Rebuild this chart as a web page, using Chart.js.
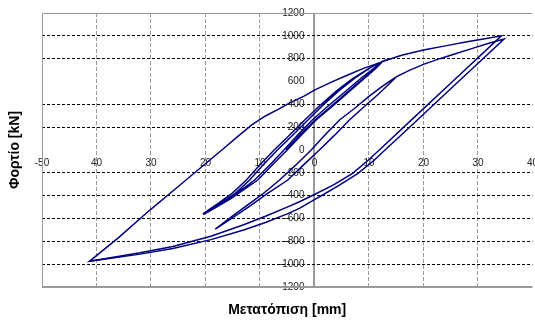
<!DOCTYPE html>
<html>
<head>
<meta charset="utf-8">
<script src="https://cdn.jsdelivr.net/npm/chart.js@4.4.1/dist/chart.umd.min.js"></script>
<style>
    html, body { margin: 0; padding: 0; background: #fff; overflow: hidden; }
    #wrap { width: 545px; height: 322px; }
</style>
</head>
<body>
<div id="wrap"><canvas id="myChart" width="545" height="322"></canvas></div>
<script>
// Tick values and labels (as printed on the original chart)
const xTicks = [-50, -40, -30, -20, -10, 0, 10, 20, 30, 40];
const xTickLabels = ["-50", "40", "30", "20", "10", "0", "10", "20", "30", "40"];
const yTicks = [-1200, -1000, -800, -600, -400, -200, 0, 200, 400, 600, 800, 1000, 1200];
const yTickLabels = ["-1200", "-1000", "-800", "-600", "-400", "-200", "0", "200", "400", "600", "800", "1000", "1200"];

// Small cycles (displacement mm / load kN)
const up1X = [-5.2, -2.6, 0.1, 3.0, 6.0, 9.0, 11.0, 12.5];
const up1Y = [0, 135, 263, 380, 505, 628, 708, 775];
const down1X = [12.5, 10.0, 7.0, 4.0, 1.0, -1.8, -4.6, -7.4, -10.0, -12.5, -15.0, -17.6, -20.5];
const down1Y = [775, 715, 625, 515, 390, 263, 130, 0, -130, -263, -375, -465, -560];
const up2X = [-20.5, -18.1, -15.8, -13.4, -11.0, -8.3, -5.6, -3.0, -0.4, 2.5, 5.6, 8.7, 10.9, 12.6];
const up2Y = [-560, -500, -435, -350, -263, -135, 0, 135, 263, 385, 510, 635, 715, 778];
const down2X = [12.6, 10.2, 7.4, 4.5, 1.6, -1.2, -4.0, -6.8, -9.4, -11.9, -14.5, -17.3, -20.4];
const down2Y = [778, 720, 630, 520, 395, 263, 130, 0, -130, -263, -380, -470, -565];
const up3X = [-20.4, -17.9, -15.4, -12.9, -10.4, -7.7, -5.0, -2.3, 0.3, 3.2, 6.2, 9.2, 11.2, 12.5];
const up3Y = [-565, -498, -428, -345, -263, -130, 0, 135, 263, 380, 505, 630, 712, 775];

// Large cycle
const envExtX = [12.5, 16, 20, 24, 28, 31, 34.3];
const envExtY = [775, 830, 875, 912, 948, 972, 1000];
const bigDown1X = [34.3, 25, 18, 12, 9.9, 7, 3.5, 0, -2.75, -5, -9, -13, -19, -26, -32, -38, -41.3];
const bigDown1Y = [1000, 585, 273, 5, -88, -204, -305, -390, -453, -500, -580, -655, -755, -845, -900, -948, -975];
const envUpX = [-41.3, -36, -30.2, -25, -21, -17, -14, -11.5, -9, -6.5, -4.6, -2, 0, 3, 6, 9, 12.5];
const envUpY = [-975, -770, -526, -320, -160, 0, 122, 220, 298, 360, 410, 470, 525, 592, 655, 715, 774];

// Medium cycle, then reloading to the peak
const midDownX = [15, 12.5, 10, 7.5, 4.6, 2, -0.6, -3.5, -6.4, -9.5, -12.5, -15.5, -18.2];
const midDownY = [640, 560, 470, 370, 263, 135, 0, -135, -263, -385, -490, -595, -692];
const midUpX = [-18.2, -15.2, -12, -8.6, -4.9, -2, 0.9, 3.7, 6.4, 9, 11.5, 13.5, 15];
const midUpY = [-692, -600, -495, -380, -263, -130, 0, 130, 263, 375, 480, 570, 640];
const midExtX = [15, 17.5, 20, 23, 26, 29, 32, 34.8];
const midExtY = [640, 700, 750, 800, 845, 890, 935, 972];
const bigDown2X = [34.8, 25, 18, 12.5, 11, 8, 4.5, 1.5, 0, -2.75, -5, -9, -13, -19, -26, -32, -38, -41.3];
const bigDown2Y = [972, 536, 224, -20, -88, -204, -310, -394, -435, -511, -560, -635, -700, -785, -862, -912, -952, -975];

function pts(xs, ys) {
    return xs.map((x, i) => ({ x: x, y: ys[i] }));
}

const path1 = [].concat(
    pts(up1X, up1Y), pts(down1X, down1Y), pts(up2X, up2Y), pts(down2X, down2Y),
    pts(up3X, up3Y), pts(envExtX, envExtY), pts(bigDown1X, bigDown1Y), pts(envUpX, envUpY)
);
const path2 = [].concat(
    pts(midDownX, midDownY), pts(midUpX, midUpY), pts(midExtX, midExtY), pts(bigDown2X, bigDown2Y)
);

const FONT = "'Liberation Sans', Arial, sans-serif";
const GRAY = "#9a9a9a";

// gray frame round the plot area (left, top, bottom)
const framePlugin = {
    id: "frame",
    beforeDatasetsDraw(chart) {
        const { ctx, chartArea: a } = chart;
        ctx.save();
        ctx.strokeStyle = GRAY;
        ctx.lineWidth = 1;
        ctx.beginPath();
        ctx.moveTo(a.left + 0.5, a.bottom);
        ctx.lineTo(a.left + 0.5, a.top + 0.5);
        ctx.lineTo(a.right, a.top + 0.5);
        ctx.stroke();
        ctx.lineWidth = 2;
        ctx.beginPath();
        ctx.moveTo(a.left, a.bottom);
        ctx.lineTo(a.right, a.bottom);
        ctx.stroke();
        ctx.restore();
    },
};

const lineStyle = {
    showLine: true,
    borderColor: "#000080",
    borderWidth: 1.5,
    pointRadius: 0,
    tension: 0,
    fill: false,
};

const ctx = document.getElementById("myChart").getContext("2d");
let myChart = new Chart(ctx, {
    type: "scatter",
    data: {
        datasets: [
            Object.assign({ data: path1 }, lineStyle),
            Object.assign({ data: path2 }, lineStyle),
        ],
    },
    options: {
        responsive: false,
        animation: false,
        layout: { padding: { left: 0, right: 11, top: 13, bottom: 0 } },
        plugins: {
            legend: { display: false },
            tooltip: { enabled: false },
            title: {
                display: true,
                text: "Φορτίο [kN]",
                position: "left",
                fullSize: false,
                color: "#000",
                font: { family: FONT, size: 14, weight: "bold" },
                padding: { top: 6.6, bottom: 18.6 },
            },
            subtitle: {
                display: true,
                text: "Μετατόπιση [mm]",
                position: "bottom",
                fullSize: false,
                color: "#000",
                font: { family: FONT, size: 14, weight: "bold" },
                padding: { top: 14.6, bottom: 3.6 },
            },
        },
        scales: {
            x: {
                type: "linear",
                min: -50,
                max: 40,
                position: { y: 0 },
                afterBuildTicks: (axis) => {
                    axis.ticks = xTicks.map((v) => ({ value: v }));
                },
                ticks: {
                    autoSkip: false,
                    maxRotation: 0,
                    padding: 7,
                    color: "#222",
                    font: { family: FONT, size: 10 },
                    callback: (val, i) => xTickLabels[i],
                },
                grid: {
                    drawTicks: false,
                    color: (c) => (c.tick && (c.tick.value === -50 || c.tick.value === 40) ? "rgba(0,0,0,0)" : GRAY),
                    lineWidth: (c) => (c.tick && c.tick.value === 0 ? 2 : 1),
                },
                border: {
                    display: false,
                    dash: (c) => (c.tick && c.tick.value === 0 ? [] : [4, 2]),
                },
            },
            y: {
                type: "linear",
                min: -1200,
                max: 1200,
                position: { x: -1.83 },
                afterBuildTicks: (axis) => {
                    axis.ticks = yTicks.map((v) => ({ value: v }));
                },
                ticks: {
                    autoSkip: false,
                    color: "#222",
                    font: { family: FONT, size: 10 },
                    callback: (val, i) => yTickLabels[i],
                },
                grid: {
                    drawTicks: false,
                    color: (c) => {
                        const v = c.tick ? c.tick.value : null;
                        return v === 0 || v === 600 || v === 1200 || v === -1200 ? "rgba(0,0,0,0)" : "#000";
                    },
                    lineWidth: 1,
                },
                border: { display: false, dash: [3, 2] },
            },
        },
    },
    plugins: [framePlugin],
});
</script>
</body>
</html>
